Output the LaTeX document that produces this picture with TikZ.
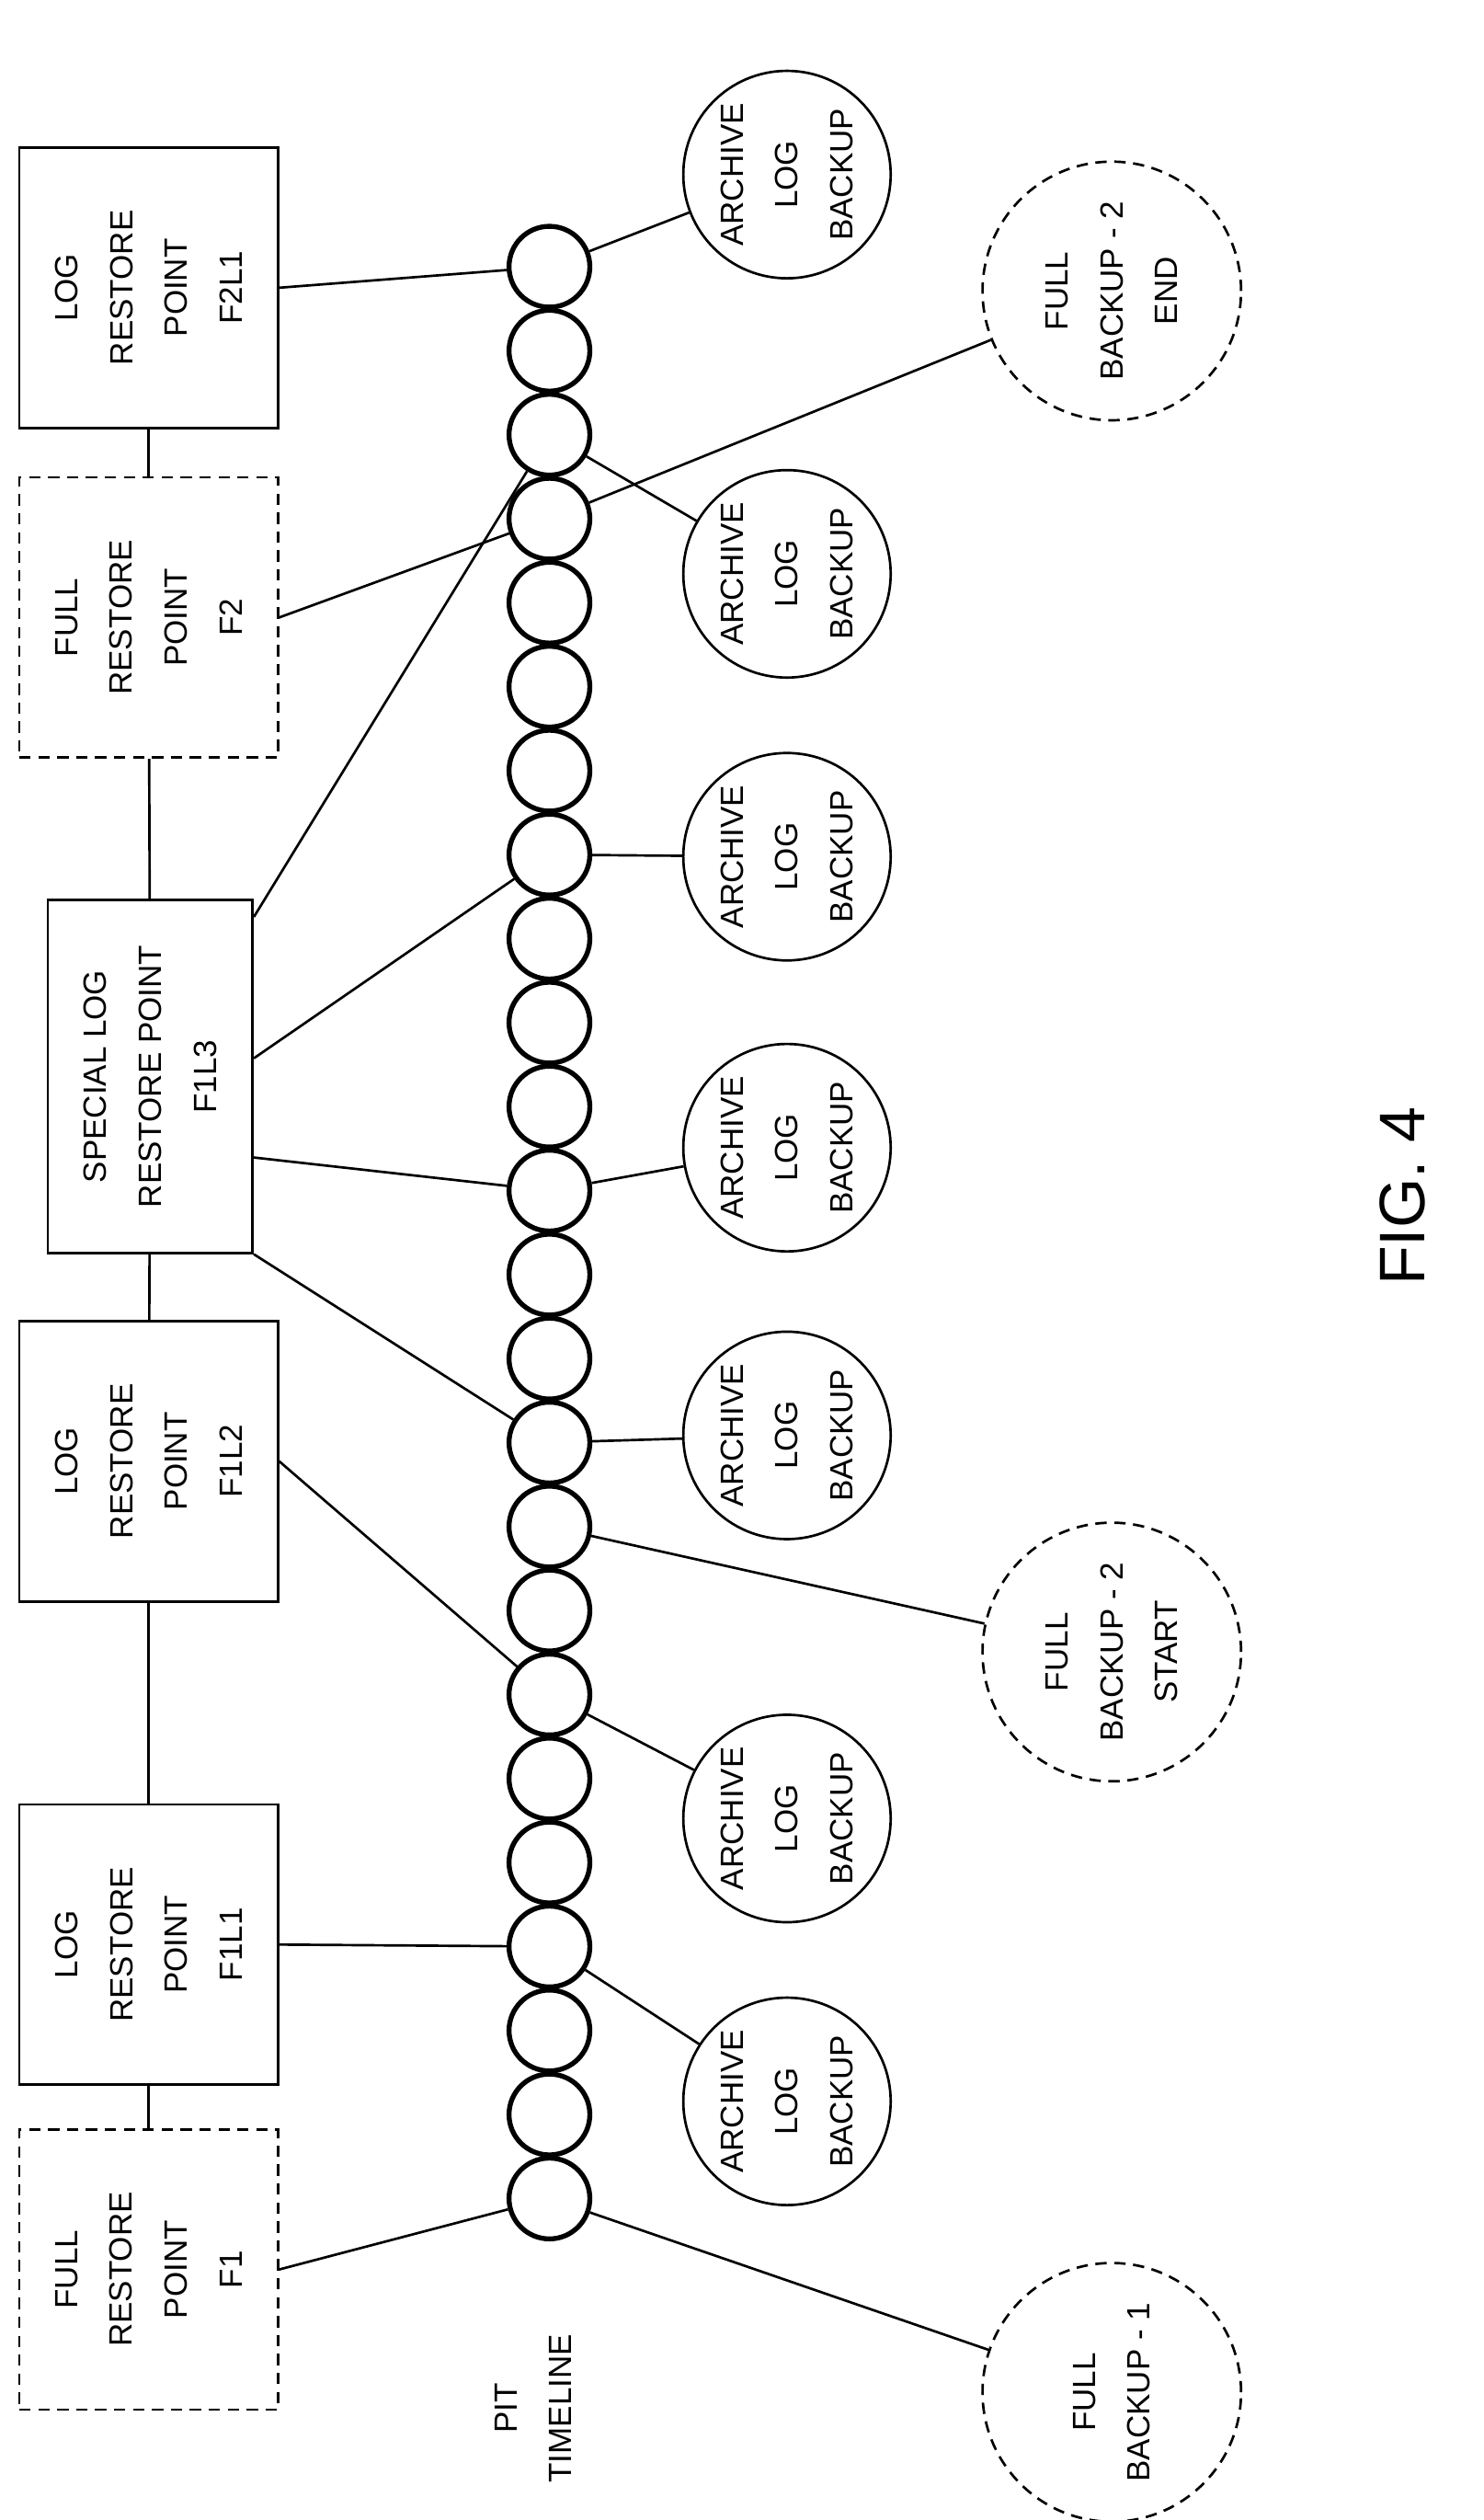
\documentclass[tikz,border=0pt]{standalone}
\usepackage{fontspec}
\setmainfont{Liberation Sans}
\begin{document}
\begin{tikzpicture}[x=0.03cm,y=-0.03cm,
  every node/.style={font=\fontsize{17}{29}\selectfont},
  restore/.style={draw,line width=1.3pt,rectangle,minimum width=4.8cm,minimum height=5.2cm},
  full/.style={restore,dash pattern=on 6pt off 4pt},
  tick/.style={draw,circle,line width=2.6pt,minimum size=1.5cm,inner sep=0pt},
  archive/.style={draw,circle,line width=1.3pt,minimum size=3.85cm,inner sep=0pt},
  backup/.style={draw,circle,dash pattern=on 6pt off 4pt,line width=1.3pt,minimum size=4.8cm,inner sep=0pt},
  txt/.style={rotate=90,align=center},
  link/.style={line width=1.3pt}]
  \useasboundingbox (0,0) rectangle (918,1559);

  % timeline
  \foreach \i in {0,...,23}
    \node [tick] (t\i) at (340,{165+\i*51.96}) {};
  \node [txt] (pit) at (330,1490) {PIT\\TIMELINE};

  % restore points
  \node [restore] (f2l1) at (92,178) {};
  \node [txt] at (f2l1) {LOG\\RESTORE\\POINT\\F2L1};
  \node [full] (f2) at (92,382) {};
  \node [txt] at (f2) {FULL\\RESTORE\\POINT\\F2};
  \node [restore,minimum width=3.8cm,minimum height=6.55cm] (f1l3) at (93,666) {};
  \node [txt] at (f1l3) {SPECIAL LOG\\RESTORE POINT\\F1L3};
  \node [restore] (f1l2) at (92,904) {};
  \node [txt] at (f1l2) {LOG\\RESTORE\\POINT\\F1L2};
  \node [restore] (f1l1) at (92,1203) {};
  \node [txt] at (f1l1) {LOG\\RESTORE\\POINT\\F1L1};
  \node [full] (f1) at (92,1404) {};
  \node [txt] at (f1) {FULL\\RESTORE\\POINT\\F1};

  \draw [link] (f2l1) -- (f2);
  \draw [link] (f2) -- (f1l3);
  \draw [link] (f1l3) -- (f1l2);
  \draw [link] (f1l2) -- (f1l1);
  \draw [link] (f1l1) -- (f1);

  % backups
  \foreach \n/\y in {a1/108,a2/355,a3/530,a4/710,a5/888,a6/1125,a7/1300} {
    \node [archive] (\n) at (487,\y) {};
    \node [txt] at (\n) {ARCHIVE\\LOG\\BACKUP};
  }
  \node [backup] (b2e) at (688,180) {};
  \node [txt] at (b2e) {FULL\\BACKUP - 2\\END};
  \node [backup] (b2s) at (688,1022) {};
  \node [txt] at (b2s) {FULL\\BACKUP - 2\\START};
  \node [backup] (b1) at (688,1480) {};
  \node [txt] at (b1) {FULL\\BACKUP - 1};

  % connectors
  \draw [link] (f2l1.east) -- (t0);
  \draw [link] (t0) -- (a1);
  \draw [link] (t2) -- (a2);
  \draw [link] (f2.east) -- (t3);
  \draw [link] (t3) -- (b2e);
  \draw [link] (f1l3.57) -- (t2);
  \draw [link] (f1l3.10) -- (t7);
  \draw [link] (t7) -- (a3);
  \draw [link] (f1l3.-38) -- (t11);
  \draw [link] (t11) -- (a4);
  \draw [link] (f1l3.south east) -- (t14);
  \draw [link] (t14) -- (a5);
  \draw [link] (t15) -- (b2s);
  \draw [link] (f1l2.east) -- (t17);
  \draw [link] (t17) -- (a6);
  \draw [link] (f1l1.east) -- (t20);
  \draw [link] (t20) -- (a7);
  \draw [link] (f1.east) -- (t23);
  \draw [link] (t23) -- (b1);

  \node [rotate=90,font=\fontsize{34}{40}\selectfont] (fig) at (868,740) {FIG. 4};
\end{tikzpicture}
\end{document}
